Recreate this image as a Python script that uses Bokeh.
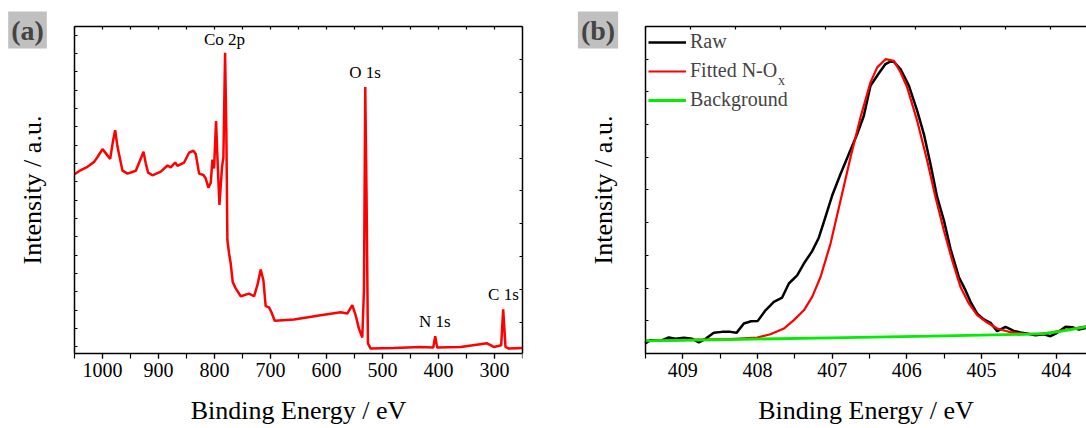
import numpy as np
from bokeh.plotting import figure
from bokeh.layouts import row
from bokeh.models import (Range1d, LinearAxis, FixedTicker, SingleIntervalTicker,
                          Legend, LegendItem, Label)
from bokeh.embed import file_html
from bokeh.resources import INLINE
from bokeh.core.properties import value

SERIF = "Liberation Serif"

# ---- (a) XPS survey spectrum ----
survey_be = [1050, 1038.7, 1026.8, 1014.9, 1008.9, 1000, 994, 986.3, 981, 977.4,
             973.2, 964.3, 955.4, 940.5, 931.6, 926.8, 922.7, 918.5, 910.8, 895.9,
             884, 878.1, 870.3, 866.2, 854.3, 845.4, 837.6, 833.5, 827.5, 819.8,
             815.6, 810.9, 806.7, 803.7, 800.8, 797.2, 794.8, 791.2, 786.5, 784.1,
             781.1, 778.8, 777.0, 774.0, 771.0, 767.5, 762.1, 753.2, 738.3, 729.4,
             723.4, 717.5, 712.7, 708.6, 702.6, 698.5, 692.5, 658.0, 610.4, 574.8,
             562.9, 553.9, 548.0, 542.1, 536.1, 533.1, 530.8, 528.4, 526.0, 521.2,
             479.6, 432.0, 409.4, 405.9, 402.3, 360.7, 313.1, 301.2, 288.1, 284.5,
             280.4, 274.4, 250]
survey_int = [54.8, 56.1, 57.1, 58.6, 60.1, 62.5, 61.2, 59.5, 65.2, 68.3,
              63.2, 55.9, 55.0, 55.9, 59.6, 61.7, 58.1, 55.3, 54.5, 55.6,
              57.5, 56.9, 58.4, 57.4, 58.4, 61.4, 62.0, 61.0, 55.0, 54.6,
              53.5, 50.7, 52.2, 59.3, 56.6, 71.1, 60.1, 45.4, 57.1, 60.1,
              92.0, 67.3, 34.7, 30.6, 27.5, 21.9, 19.9, 17.5, 18.3, 17.5,
              20.9, 25.7, 22.4, 14.5, 14.1, 12.7, 10.0, 10.4, 11.7, 12.6,
              12.2, 14.8, 11.7, 7.6, 4.9, 19.4, 81.5, 46.9, 3.1, 1.5,
              1.7, 2.0, 1.8, 5.3, 1.8, 2.0, 3.1, 2.0, 2.5, 13.5,
              2.0, 1.5, 1.7]

peak_names = ["Co 2p", "O 1s", "N 1s", "C 1s"]
peak_label_be = [782.0, 531.3, 406.4, 284.0]
peak_label_y = [96.0, 85.9, 9.7, 18.1]

# ---- (b) N 1s high-resolution region ----
raw_be = [409.504, 409.433, 409.299, 409.188, 409.098, 408.987, 408.875, 408.786,
          408.696, 408.585, 408.473, 408.362, 408.281, 408.183, 408.085, 407.996,
          407.893, 407.781, 407.670, 407.580, 407.469, 407.379, 407.268, 407.179,
          407.112, 407.000, 406.888, 406.777, 406.665, 406.576, 406.487, 406.375,
          406.286, 406.219, 406.174, 406.085, 405.973, 405.862, 405.772, 405.683,
          405.594, 405.504, 405.415, 405.304, 405.214, 405.147, 405.058, 404.969,
          404.879, 404.790, 404.679, 404.567, 404.455, 404.277, 404.165, 404.076,
          403.987, 403.875, 403.786, 403.696, 403.594]
raw_int = [3.05, 4.07, 3.87, 4.88, 4.48, 4.78, 4.48, 3.36,
           4.48, 6.31, 6.61, 6.61, 6.31, 9.16, 9.87, 9.97,
           13.2, 15.8, 17.1, 21.4, 23.9, 27.5, 31.3, 35.4,
           40.2, 48.3, 54.9, 61.0, 67.1, 72.7, 81.9, 85.7,
           88.5, 89.3, 89.2, 87.0, 81.9, 74.3, 67.1, 57.9,
           47.8, 40.7, 32.0, 23.4, 19.3, 15.8, 12.2, 10.4,
           9.36, 6.82, 8.14, 6.92, 6.31, 5.60, 5.90, 5.29,
           6.31, 8.14, 8.04, 7.32, 7.83]

fit_be = [409.504, 408.808, 408.362, 408.004, 407.826, 407.647, 407.513, 407.379,
          407.268, 407.156, 407.022, 406.888, 406.754, 406.621, 406.487, 406.397,
          406.286, 406.174, 406.085, 405.996, 405.862, 405.728, 405.616, 405.504,
          405.393, 405.281, 405.170, 405.058, 404.924, 404.790, 404.612, 404.433,
          404.254, 404.076, 403.897, 403.719, 403.594]
fit_int = [3.87, 4.27, 4.37, 4.88, 5.90, 7.63, 10.2, 13.2,
           17.3, 23.4, 33.6, 46.8, 60.0, 72.2, 82.9, 87.5,
           90.0, 89.5, 86.0, 81.4, 71.2, 59.0, 47.8, 37.6,
           28.5, 20.3, 15.3, 11.7, 9.46, 7.63, 6.51, 6.10,
           5.90, 6.41, 7.12, 7.83, 8.34]

bg_be = [409.504, 408.362, 407.022, 405.683, 404.344, 404.165, 403.987, 403.808, 403.594]
bg_int = [3.87, 4.27, 4.78, 5.29, 5.90, 6.10, 6.61, 7.32, 8.14]

Y_TOP = 100.0      # top of the boxed plotting area, in intensity units
Y_PAD = 7.95       # head room above the box (room for the panel tag)
Y_FOOT = 22.94     # room below the box for tick labels and the axis title


def style_axis(ax, tick_in, tick_out, label=""):
    ax.axis_line_color = "black"
    ax.axis_line_width = 1.5
    ax.major_tick_line_color = "black"
    ax.major_tick_line_width = 1.2
    ax.minor_tick_line_color = "black"
    ax.minor_tick_line_width = 1.2
    ax.major_tick_in = tick_in
    ax.major_tick_out = tick_out
    ax.minor_tick_in = tick_in
    ax.minor_tick_out = tick_out
    ax.major_label_text_font = SERIF
    ax.major_label_text_color = "black"
    ax.major_label_text_font_size = "20px"
    ax.major_label_standoff = 5
    ax.axis_label = label
    ax.axis_label_text_font = SERIF
    ax.axis_label_text_font_size = "26px"
    ax.axis_label_text_font_style = "normal"
    ax.axis_label_text_color = "black"


def tick_only(positions):
    # unlabeled tick marks: carried as minor ticks so no tick labels are drawn
    return FixedTicker(ticks=[], minor_ticks=list(positions))


def panel_tag(text, x):
    return Label(x=x, y=398.5, x_units="screen", y_units="screen", text=text,
                 text_font=SERIF, text_font_style="bold", text_font_size="28px",
                 text_align="center", text_baseline="middle",
                 background_fill_color="#c0c0c0", padding=3)


def base_figure(width, x_start, x_end, min_right):
    p = figure(width=width, height=428, x_range=Range1d(x_start, x_end),
               y_range=Range1d(-Y_FOOT, Y_TOP + Y_PAD),
               output_backend="svg", toolbar_location=None,
               min_border_left=0, min_border_right=min_right,
               min_border_top=0, min_border_bottom=0)
    p.grid.visible = False
    p.outline_line_color = None
    return p


# ---------------- panel (a) ----------------
E_HI_A, E_LO_A = 1050, 250
pa = base_figure(560, E_HI_A + 74 / 0.56, E_LO_A, 38)

xa = pa.below[0]
xa.ticker = SingleIntervalTicker(interval=100, num_minor_ticks=2)
xa.fixed_location = 0
xa.bounds = (E_LO_A, E_HI_A)
style_axis(xa, 0, 5, "Binding Energy / eV")
xa.axis_label_standoff = 15

ya = pa.left[0]
ya.ticker = tick_only(np.arange(2.0, 100, 5.61))
ya.fixed_location = E_HI_A
ya.bounds = (0, Y_TOP)
style_axis(ya, 3, 0, "Intensity / a.u.")
ya.axis_label_standoff = 28

top_a = LinearAxis(ticker=tick_only(np.arange(E_HI_A, E_LO_A - 1, -50)),
                   fixed_location=Y_TOP, bounds=(E_LO_A, E_HI_A))
style_axis(top_a, 3, 0)
pa.add_layout(top_a, "above")

right_a = LinearAxis(ticker=tick_only(np.arange(9.5, 100, 10.05)), bounds=(0, Y_TOP))
style_axis(right_a, 3, 0)
pa.add_layout(right_a, "right")

pa.line(survey_be, survey_int, line_color="#ff0000", line_width=2.5)
pa.text(x=peak_label_be, y=peak_label_y, text=peak_names, text_font=value(SERIF),
        text_font_size="17px", text_align="center", text_baseline="middle",
        text_color="black")
pa.add_layout(panel_tag("(a)", 27))

# ---------------- panel (b) ----------------
E_HI_B, E_LO_B = 409.5, 403.594
pb = base_figure(526, E_HI_B + 85 / 74.67, E_LO_B, 0)

xb = pb.below[0]
xb.ticker = SingleIntervalTicker(interval=1, num_minor_ticks=2)
xb.fixed_location = 0
xb.bounds = (E_LO_B, E_HI_B)
style_axis(xb, 0, 5, "Binding Energy / eV")
xb.axis_label_standoff = 15

yb = pb.left[0]
yb.ticker = tick_only(np.arange(0, 101, 10))
yb.fixed_location = E_HI_B
yb.bounds = (0, Y_TOP)
style_axis(yb, 3, 0, "Intensity / a.u.")
yb.axis_label_standoff = 28

top_b = LinearAxis(ticker=tick_only(np.arange(409.496, 403.59, -0.6027)),
                   fixed_location=Y_TOP, bounds=(E_LO_B, E_HI_B))
style_axis(top_b, 3, 0)
pb.add_layout(top_b, "above")

r_raw = pb.line(raw_be, raw_int, line_color="black", line_width=2.5)
r_fit = pb.line(fit_be, fit_int, line_color="#ff0000", line_width=2.2)
r_bg = pb.line(bg_be, bg_int, line_color="#00ee00", line_width=2.8)

legend = Legend(items=[LegendItem(label="Raw", renderers=[r_raw]),
                       LegendItem(label="Fitted N-O", renderers=[r_fit]),
                       LegendItem(label="Background", renderers=[r_bg])],
                location=(84, 313), margin=0, padding=4, spacing=6,
                glyph_width=38, glyph_height=20, label_height=22, label_standoff=4,
                label_text_font=SERIF, label_text_font_size="20px",
                background_fill_alpha=0, border_line_alpha=0)
pb.add_layout(legend)
pb.add_layout(Label(x=221, y=348, x_units="screen", y_units="screen", text="x",
                    text_font=SERIF, text_font_size="14px",
                    text_align="center", text_baseline="middle"))
pb.add_layout(panel_tag("(b)", 37.5))

layout = row(pa, pb)
open("out.html", "w").write(file_html(layout, INLINE))
